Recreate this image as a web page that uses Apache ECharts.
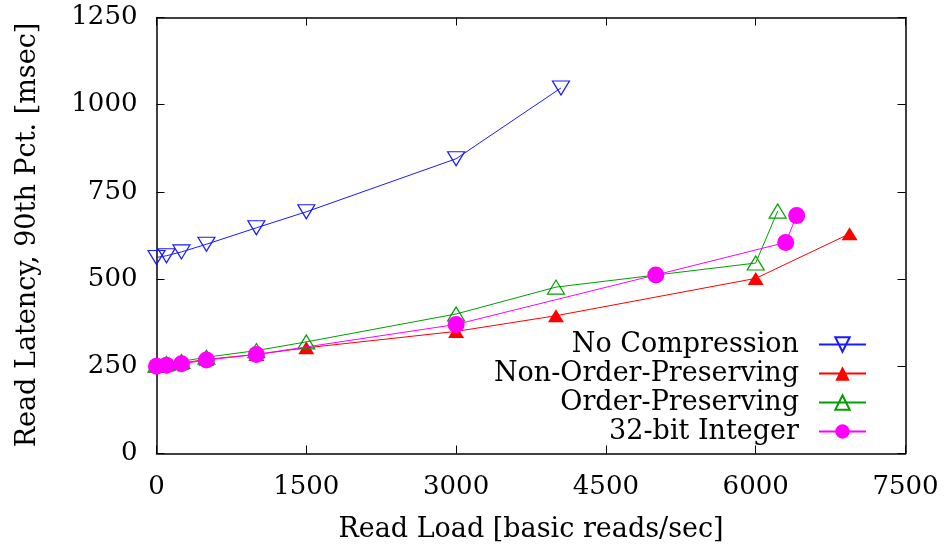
<!DOCTYPE html>
<html>
<head>
<meta charset="utf-8">
<script src="https://cdn.jsdelivr.net/npm/echarts@6/dist/echarts.min.js"></script>
<style>
  html, body { margin: 0; padding: 0; background: #ffffff; }
  #chart { width: 944px; height: 555px; }
</style>
</head>
<body>
<div id="chart"></div>
<script>
// Axis ranges and tick values
const xTicks = [0, 1500, 3000, 4500, 6000, 7500];
const yTicks = [0, 250, 500, 750, 1000, 1250];

// Series names
const seriesNames = ['No Compression', 'Non-Order-Preserving', 'Order-Preserving', '32-bit Integer'];

// No Compression
const noCompLoad    = [0, 100, 250, 500, 1000, 1500, 3000, 4050];
const noCompLatency = [562, 567, 578, 600, 647, 693, 845, 1048];

// Non-Order-Preserving
const nopLoad    = [0, 100, 250, 500, 1000, 1500, 3000, 4000, 6000, 6940];
const nopLatency = [250, 254, 259, 270, 284, 303, 350, 395, 502, 630];

// Order-Preserving
const opLoad    = [0, 100, 250, 500, 1000, 1500, 3000, 4000, 6000, 6220];
const opLatency = [253, 258, 264, 276, 295, 320, 400, 477, 546, 695];

// 32-bit Integer
const intLoad    = [0, 100, 250, 500, 1000, 3000, 5000, 6300, 6410];
const intLatency = [250, 253, 257, 268, 284, 370, 512, 605, 682];

const FONT = 'DejaVu Serif';
const TICK_SIZE = 26;
const TEXT_SIZE = 27;
const pairs = (xs, ys) => xs.map((x, i) => [x, ys[i]]);

const xMin = xTicks[0], xMax = xTicks[xTicks.length - 1], xStep = xTicks[1] - xTicks[0];
const yMin = yTicks[0], yMax = yTicks[yTicks.length - 1], yStep = yTicks[1] - yTicks[0];

const axisLine = { show: true, onZero: false, lineStyle: { color: '#000', width: 1.5 } };
const axisTick = { show: true, inside: true, length: 8, lineStyle: { color: '#000', width: 1 } };
const plain = v => String(v);

function xAxisDef(pos, labels) {
  return {
    type: 'value', position: pos, min: xMin, max: xMax, interval: xStep,
    axisLine, axisTick, splitLine: { show: false },
    axisLabel: { show: labels, color: '#000', fontFamily: FONT, fontSize: TICK_SIZE, margin: 21, formatter: plain }
  };
}
function yAxisDef(pos, labels) {
  return {
    type: 'value', position: pos, min: yMin, max: yMax, interval: yStep,
    axisLine, axisTick, splitLine: { show: false },
    axisLabel: { show: labels, color: '#000', fontFamily: FONT, fontSize: TICK_SIZE, margin: 19, formatter: plain }
  };
}

const styles = [
  { color: '#1a1aff', symbol: 'triangle', rotate: 180, size: [17, 14], hollow: true },
  { color: '#ff0000', symbol: 'triangle', rotate: 0,   size: [16, 13], hollow: false },
  { color: '#00a000', symbol: 'triangle', rotate: 0,   size: [17, 14], hollow: true },
  { color: '#ff00ff', symbol: 'circle',   rotate: 0,   size: 17,       hollow: false }
];
const dataSets = [
  pairs(noCompLoad, noCompLatency),
  pairs(nopLoad, nopLatency),
  pairs(opLoad, opLatency),
  pairs(intLoad, intLatency)
];

const series = seriesNames.map((name, i) => {
  const s = styles[i];
  return {
    name, type: 'line', xAxisIndex: 0, yAxisIndex: 0,
    data: dataSets[i],
    symbol: s.symbol, symbolSize: s.size, symbolRotate: s.rotate,
    showSymbol: true,
    lineStyle: { color: s.color, width: 1 },
    itemStyle: s.hollow
      ? { color: 'rgba(255,255,255,0)', borderColor: s.color, borderWidth: 1.2 }
      : { color: s.color, borderWidth: 0 },
    emphasis: { disabled: true },
    z: 2 + i
  };
});

// One legend block per row, right-aligned, text to the left of the sample line
const legendRows = [343, 372, 401, 430];
const legends = seriesNames.map((name, i) => ({
  data: [name],
  right: 72,
  top: legendRows[i] - 17,
  orient: 'horizontal',
  align: 'right',
  itemWidth: 47,
  itemHeight: 18,
  selectedMode: false,
  textStyle: { color: '#000', fontFamily: FONT, fontSize: TEXT_SIZE, padding: [0, 15, 0, 0] }
}));

const chart = echarts.init(document.getElementById('chart'), null, { renderer: 'canvas' });
chart.setOption({
  animation: false,
  backgroundColor: '#fff',
  grid: { left: 156.5, right: 38.5, top: 17.5, bottom: 101.5, containLabel: false },
  xAxis: [xAxisDef('bottom', true), xAxisDef('top', false)],
  yAxis: [yAxisDef('left', true), yAxisDef('right', false)],
  legend: legends,
  series,
  graphic: [
    {
      type: 'text', x: 531, y: 530,
      style: { text: 'Read Load [basic reads/sec]', fontFamily: FONT, fontSize: TEXT_SIZE, fill: '#000',
               textAlign: 'center', textVerticalAlign: 'middle' }
    },
    {
      type: 'text', x: 28, y: 235, rotation: Math.PI / 2,
      style: { text: 'Read Latency, 90th Pct. [msec]', fontFamily: FONT, fontSize: TEXT_SIZE, fill: '#000',
               textAlign: 'center', textVerticalAlign: 'middle' }
    }
  ]
});
</script>
</body>
</html>
